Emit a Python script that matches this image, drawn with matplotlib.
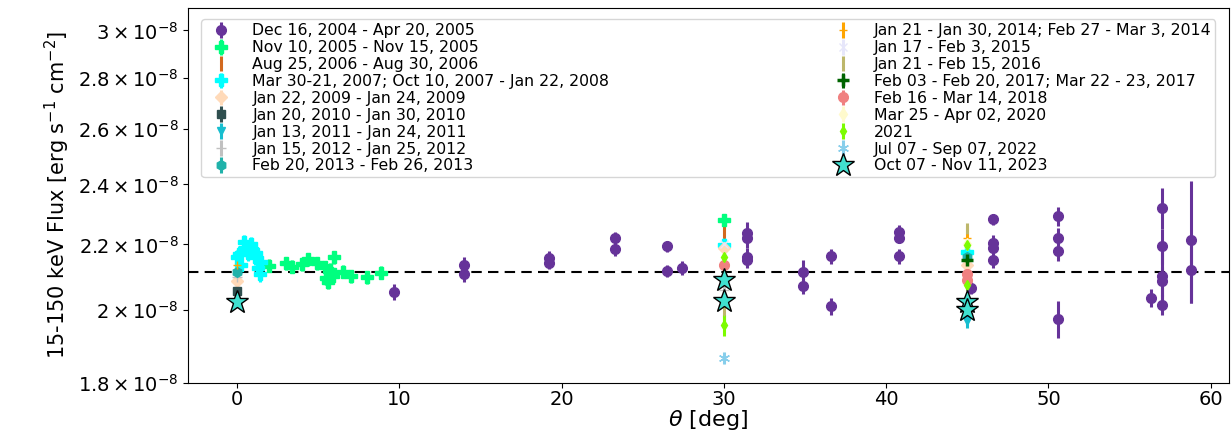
import matplotlib
matplotlib.use("Agg")
import matplotlib.pyplot as plt
from matplotlib.ticker import FixedLocator, NullLocator

# flux values in units of 1e-8 erg s^-1 cm^-2, theta in deg
theta_2004 = [9.7, 14.0, 14.0, 19.2, 19.2, 23.3, 23.3, 26.5, 26.5, 27.4,
              31.4, 31.4, 31.4, 31.4, 34.9, 34.9, 36.6, 36.6, 40.8, 40.8, 40.8,
              45.2, 46.6, 46.6, 46.6, 46.6, 50.6, 50.6, 50.6, 50.6,
              56.3, 57.0, 57.0, 57.0, 57.0, 57.0, 58.8, 58.8]
flux_2004 = [2.053, 2.136, 2.107, 2.156, 2.141, 2.219, 2.184, 2.194, 2.117, 2.126,
             2.236, 2.219, 2.159, 2.150, 2.114, 2.071, 2.162, 2.011, 2.240, 2.222, 2.162,
             2.065, 2.282, 2.205, 2.190, 2.150, 2.291, 2.222, 2.178, 1.975,
             2.035, 2.318, 2.194, 2.100, 2.085, 2.015, 2.215, 2.120]
err_2004 = [0.024, 0.024, 0.024, 0.024, 0.018, 0.021, 0.021, 0.018, 0.018, 0.021,
            0.036, 0.030, 0.030, 0.024, 0.036, 0.024, 0.024, 0.024, 0.024, 0.018, 0.024,
            0.018, 0.018, 0.024, 0.018, 0.024, 0.030, 0.030, 0.030, 0.053,
            0.027, 0.070, 0.057, 0.080, 0.045, 0.030, 0.195, 0.100]

theta_2005 = [2.0, 3.0, 3.4, 4.0, 4.4, 4.9, 5.4, 5.5, 5.6, 5.7, 5.8, 5.9, 6.0,
              6.5, 7.0, 8.0, 8.9, 30.0]
flux_2005 = [2.133, 2.141, 2.130, 2.138, 2.153, 2.141, 2.128, 2.095, 2.083, 2.120,
             2.110, 2.100, 2.159, 2.114, 2.101, 2.098, 2.112, 2.278]
err_2005 = [0.02] * 18

theta_2006 = [30.0]
flux_2006 = [2.222]
err_2006 = [0.045]

theta_2007 = [0.0, 0.1, 0.25, 0.4, 0.5, 0.6, 0.7, 0.85, 1.0, 1.1, 1.2, 1.3, 1.4,
              1.5, 30.0, 45.0]
flux_2007 = [2.159, 2.170, 2.136, 2.206, 2.190, 2.181, 2.172, 2.200, 2.181, 2.160,
             2.172, 2.126, 2.107, 2.144, 2.197, 2.175]
err_2007 = [0.024] * 16

theta_2009 = [0.0, 30.0, 45.0]
flux_2009 = [2.086, 2.190, 2.136]
err_2009 = [0.015, 0.015, 0.015]

theta_2010 = [0.0]
flux_2010 = [2.055]
err_2010 = [0.015]

theta_2011 = [45.0]
flux_2011 = [1.968]
err_2011 = [0.02]

theta_2012 = [0.0, 30.0]
flux_2012 = [2.099, 2.060]
err_2012 = [0.015, 0.015]

theta_2013 = [0.0, 45.0]
flux_2013 = [2.114, 2.159]
err_2013 = [0.015, 0.015]

theta_2014 = [0.0, 45.0]
flux_2014 = [2.136, 2.222]
err_2014 = [0.015, 0.037]

theta_2015 = [30.0]
flux_2015 = [2.200]
err_2015 = [0.015]

theta_2016 = [30.0, 45.0]
flux_2016 = [1.994, 2.250]
err_2016 = [0.030, 0.018]

theta_2017 = [45.0]
flux_2017 = [2.150]
err_2017 = [0.015]

theta_2018 = [30.0, 45.0, 45.0]
flux_2018 = [2.136, 2.107, 2.090]
err_2018 = [0.012, 0.012, 0.012]

theta_2020 = [45.0]
flux_2020 = [2.200]
err_2020 = [0.015]

theta_2021 = [30.0, 30.0, 45.0, 45.0]
flux_2021 = [2.159, 1.956, 2.197, 2.074]
err_2021 = [0.015, 0.030, 0.015, 0.015]

theta_2022 = [30.0]
flux_2022 = [1.866]
err_2022 = [0.017]

theta_2023 = [0.0, 30.0, 30.0, 45.0, 45.0]
flux_2023 = [2.024, 2.089, 2.026, 2.024, 2.000]

mean_flux = 2.113

labels = ["Dec 16, 2004 - Apr 20, 2005",
          "Nov 10, 2005 - Nov 15, 2005",
          "Aug 25, 2006 - Aug 30, 2006",
          "Mar 30-21, 2007; Oct 10, 2007 - Jan 22, 2008",
          "Jan 22, 2009 - Jan 24, 2009",
          "Jan 20, 2010 - Jan 30, 2010",
          "Jan 13, 2011 - Jan 24, 2011",
          "Jan 15, 2012 - Jan 25, 2012",
          "Feb 20, 2013 - Feb 26, 2013",
          "Jan 21 - Jan 30, 2014; Feb 27 - Mar 3, 2014",
          "Jan 17 - Feb 3, 2015",
          "Jan 21 - Feb 15, 2016",
          "Feb 03 - Feb 20, 2017; Mar 22 - 23, 2017",
          "Feb 16 - Mar 14, 2018",
          "Mar 25 - Apr 02, 2020",
          "2021",
          "Jul 07 - Sep 07, 2022",
          "Oct 07 - Nov 11, 2023"]

ytick_vals = [1.8, 2.0, 2.2, 2.4, 2.6, 2.8, 3.0]
ytick_labels = [r"$1.8\times10^{-8}$", r"$2\times10^{-8}$", r"$2.2\times10^{-8}$",
                r"$2.4\times10^{-8}$", r"$2.6\times10^{-8}$", r"$2.8\times10^{-8}$",
                r"$3\times10^{-8}$"]

series = [(theta_2004, flux_2004, err_2004),
          (theta_2005, flux_2005, err_2005),
          (theta_2006, flux_2006, err_2006),
          (theta_2007, flux_2007, err_2007),
          (theta_2009, flux_2009, err_2009),
          (theta_2010, flux_2010, err_2010),
          (theta_2011, flux_2011, err_2011),
          (theta_2012, flux_2012, err_2012),
          (theta_2013, flux_2013, err_2013),
          (theta_2014, flux_2014, err_2014),
          (theta_2015, flux_2015, err_2015),
          (theta_2016, flux_2016, err_2016),
          (theta_2017, flux_2017, err_2017),
          (theta_2018, flux_2018, err_2018),
          (theta_2020, flux_2020, err_2020),
          (theta_2021, flux_2021, err_2021),
          (theta_2022, flux_2022, err_2022)]

styles = [dict(color="rebeccapurple", marker="o", ms=7),
          dict(color="springgreen", marker="P", ms=8),
          dict(color="chocolate", marker="|", ms=6),
          dict(color="cyan", marker="P", ms=8),
          dict(color="peachpuff", marker="D", ms=6),
          dict(color="darkslategray", marker="s", ms=6),
          dict(color="#17becf", marker="v", ms=6),
          dict(color="silver", marker="+", ms=7),
          dict(color="lightseagreen", marker="h", ms=7),
          dict(color="orange", marker="+", ms=6),
          dict(color="lavender", marker="x", ms=6),
          dict(color="darkkhaki", marker="|", ms=6),
          dict(color="darkgreen", marker="+", ms=8, mew=2.5),
          dict(color="lightcoral", marker="o", ms=7),
          dict(color="lemonchiffon", marker="d", ms=6),
          dict(color="lawngreen", marker="d", ms=5),
          dict(color="skyblue", marker=(6, 2, 0), ms=8)]

fig = plt.figure(figsize=(12.31, 4.34), dpi=100)
ax = fig.add_axes([0.153, 0.118, 0.845, 0.864])

handles = []
for (th, fl, er), st, lab in zip(series, styles, labels):
    h = ax.errorbar(th, [f * 1e-8 for f in fl], yerr=[e * 1e-8 for e in er],
                    ls="none", elinewidth=2.2, capsize=0, label=lab, **st)
    handles.append(h)

star, = ax.plot(theta_2023, [f * 1e-8 for f in flux_2023], ls="none", marker="*",
                ms=17, mfc="turquoise", mec="black", mew=1.0, label=labels[-1],
                zorder=5)
handles.append(star)

ax.axhline(mean_flux * 1e-8, color="black", ls="--", lw=1.5, dashes=(5, 3))

ax.set_yscale("log")
ax.set_ylim(1.8e-8, 3.1e-8)
ax.set_xlim(-3, 61.1)
ax.yaxis.set_major_locator(FixedLocator([v * 1e-8 for v in ytick_vals]))
ax.yaxis.set_minor_locator(NullLocator())
ax.set_yticklabels(ytick_labels)
ax.tick_params(labelsize=14)
ax.tick_params(axis="x", pad=2)

ax.set_xlabel(r"$\theta$ [deg]", fontsize=16, labelpad=-1)
ax.set_ylabel(r"15-150 keV Flux [erg s$^{-1}$ cm$^{-2}$]", fontsize=15)

ax.legend(handles=handles, labels=labels, loc="upper left",
          bbox_to_anchor=(0.005, 0.99, 0.99, 0.0), mode="expand",
          ncol=2, fontsize=11.3, labelspacing=0.12, borderpad=0.25,
          handletextpad=1.0, numpoints=1)

fig.savefig("out.png", dpi=100)
